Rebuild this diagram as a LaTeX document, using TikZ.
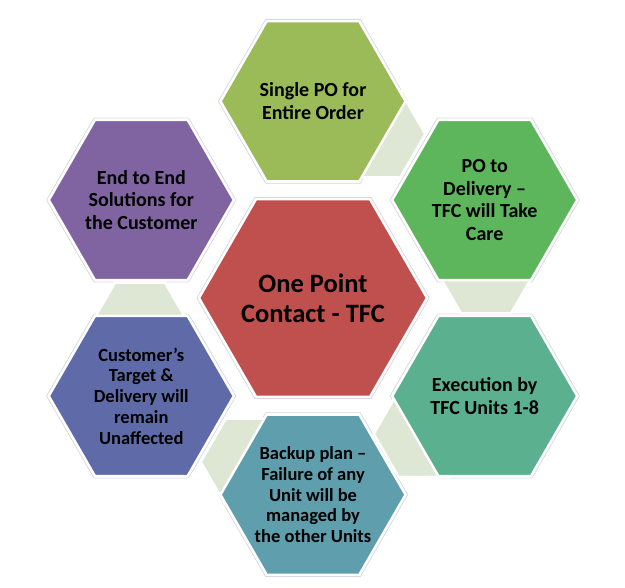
\documentclass[tikz,border=0pt]{standalone}
\usepackage{fontspec}
\setmainfont{Carlito}
\definecolor{topgreen}{HTML}{9BBB59}
\definecolor{rtgreen}{HTML}{5EB65C}
\definecolor{execgreen}{HTML}{5BB08F}
\definecolor{tealc}{HTML}{5F9EAD}
\definecolor{bluec}{HTML}{5F6BA8}
\definecolor{purplec}{HTML}{8064A2}
\definecolor{redc}{HTML}{C0504D}
\definecolor{connfill}{HTML}{DEE6D4}
\definecolor{shadowgray}{HTML}{D3D6E2}
\newcommand\myhex[3]{({#1+#3},{#2}) -- ({#1+0.5*#3},{#2+0.8660*#3}) -- ({#1-0.5*#3},{#2+0.8660*#3}) -- ({#1-#3},{#2}) -- ({#1-0.5*#3},{#2-0.8660*#3}) -- ({#1+0.5*#3},{#2-0.8660*#3}) -- cycle}
\begin{document}
\begin{tikzpicture}[x=1pt,y=-1pt,
  hexfill/.style={fill=#1, draw=white, line width=2.4pt, line join=miter},
  hexshadow/.style={draw=shadowgray, line width=0.8pt},
  conn/.style={fill=connfill, draw=white, line width=2.4pt, line join=miter},
  lbl/.style={align=center, font=\bfseries\fontsize{20}{22.7}\selectfont, text=black, inner sep=0pt},
  lblsmall/.style={align=center, font=\bfseries\fontsize{18.5}{20.7}\selectfont, text=black, inner sep=0pt},
  lblbig/.style={align=center, font=\bfseries\fontsize{26.5}{30}\selectfont, text=black, inner sep=0pt}]
\useasboundingbox (0,0) rectangle (625,588);
% faint outlines
\foreach \cx/\cy in {313/101.3, 484.7/200, 484.7/396, 313/494.7, 141.3/396, 141.3/200}
  \draw[hexshadow] \myhex{\cx}{\cy}{94.6};
\draw[hexshadow] \myhex{313}{298}{116.1};
% connectors
\foreach \cx/\cy in {486.0/270.0, 375.3/134.1, 140.0/326.0, 250.75/461.9, 423.8/433.85}
  \draw[conn] \myhex{\cx}{\cy}{50};
% hexagons
\draw[hexfill=topgreen] \myhex{313}{101.3}{92.5};
\draw[hexfill=rtgreen] \myhex{484.7}{200}{92.5};
\draw[hexfill=execgreen] \myhex{484.7}{396}{92.5};
\draw[hexfill=tealc] \myhex{313}{494.7}{92.5};
\draw[hexfill=bluec] \myhex{141.3}{396}{92.5};
\draw[hexfill=purplec] \myhex{141.3}{200}{92.5};
\draw[hexfill=redc] \myhex{313}{298}{114};
% labels
\node[lbl] (t) at (313,101.3) {Single PO for\\Entire Order};
\node[lbl] (rt) at (484.7,200) {PO to\\Delivery –\\TFC will Take\\Care};
\node[lbl] (rb) at (484.7,396) {Execution by\\TFC Units 1-8};
\node[lblsmall] (b) at (313,494.7) {Backup plan –\\Failure of any\\Unit will be\\managed by\\the other Units};
\node[lblsmall] (lb) at (141.3,396) {Customer’s\\Target \&\\Delivery will\\remain\\Unaffected};
\node[lbl] (lt) at (141.3,200) {End to End\\Solutions for\\the Customer};
\node[lblbig] (c) at (313,298) {One Point\\Contact - TFC};
\end{tikzpicture}
\end{document}
